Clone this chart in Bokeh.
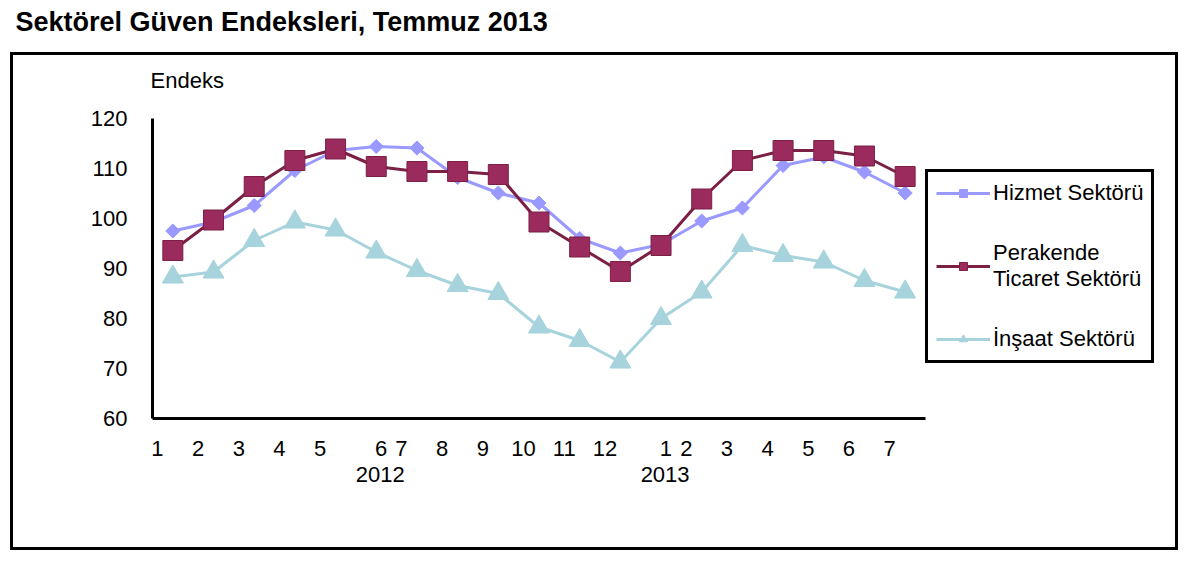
import math
from bokeh.plotting import figure
from bokeh.models import (Range1d, LinearAxis, FixedTicker, Legend, LegendItem,
                          ColumnDataSource, Title)
from bokeh.embed import file_html
from bokeh.resources import INLINE

# ---- data ----
months = [1, 2, 3, 4, 5, 6, 7, 8, 9, 10, 11, 12, 1, 2, 3, 4, 5, 6, 7]
years = ["2012", "2013"]
year_start = [5, 12]          # category under which the year is written
hizmet = [97.5, 99.3, 102.6, 109.6, 113.6, 114.4, 114.1, 108.2, 105.1, 103.1,
          96.0, 93.1, 94.8, 99.5, 102.1, 110.6, 112.3, 109.3, 105.1]
perakende = [93.6, 99.7, 106.4, 111.6, 113.9, 110.4, 109.4, 109.4, 108.8, 99.3,
             94.3, 89.4, 94.6, 103.9, 111.6, 113.6, 113.6, 112.5, 108.4]
insaat = [88.3, 89.3, 95.6, 99.3, 97.7, 93.3, 89.6, 86.6, 85.0, 78.3,
          75.6, 71.3, 80.0, 85.3, 94.6, 92.6, 91.3, 87.6, 85.3]
y_ticks = [60, 70, 80, 90, 100, 110, 120]
title_text = "Sektörel Güven Endeksleri, Temmuz 2013"
y_title = "Endeks"

idx = list(range(len(months)))
src = ColumnDataSource(dict(x=idx, h=hizmet, p=perakende, i=insaat))

FONT = "Liberation Sans"
N = len(months)
LEGEND_ROOM = 5.9   # extra x room (category units) that holds the legend

p = figure(width=1200, height=566, output_backend="svg", toolbar_location=None,
           x_range=Range1d(-0.5, N - 0.5 + LEGEND_ROOM), y_range=Range1d(60, 120),
           min_border_left=152, min_border_right=35, min_border_top=118,
           min_border_bottom=148, background_fill_color="white",
           border_fill_color=None, outline_line_color=None)
p.grid.visible = False

# chart-area frame drawn behind the (transparent) border area of the canvas
_bar = "linear-gradient(#000,#000)"
p.styles = {"background": (
    f"{_bar} 10px 52px / 1168px 3px no-repeat, "
    f"{_bar} 10px 547px / 1168px 3px no-repeat, "
    f"{_bar} 10px 52px / 3px 498px no-repeat, "
    f"{_bar} 1175px 52px / 3px 498px no-repeat, #ffffff")}

# main title (outer) and y-axis caption (inner, added later)
p.title.text = title_text
p.title.align = "left"
p.title.offset = -137
p.title.standoff = 8
p.title.text_font = FONT
p.title.text_font_size = "27px"
p.title.text_font_style = "bold"
p.title.text_color = "black"

p.add_layout(Title(text=y_title, align="left", offset=-2, standoff=51,
                   text_font=FONT, text_font_size="22px", text_font_style="normal",
                   text_color="black"), "above")

# ---- series ----
C_H = "#9999FF"
C_P_FILL = "#9B2B5C"
C_P_LINE = "#7B1F45"
C_I = "#A6D3DC"

li = p.line("x", "i", source=src, line_color=C_I, line_width=3)
si = p.scatter("x", "i", source=src, marker="triangle", size=21,
               fill_color=C_I, line_color=C_I)
lh = p.line("x", "h", source=src, line_color=C_H, line_width=3)
sh = p.scatter("x", "h", source=src, marker="square", size=10, angle=math.pi / 4,
               fill_color=C_H, line_color=C_H)
lp = p.line("x", "p", source=src, line_color=C_P_LINE, line_width=3)
sp = p.scatter("x", "p", source=src, marker="square", size=20,
               fill_color=C_P_FILL, line_color=C_P_LINE, line_width=1)

# ---- y axis ----
ya = p.yaxis[0]
ya.ticker = FixedTicker(ticks=y_ticks, minor_ticks=[])
ya.axis_line_color = "black"
ya.axis_line_width = 3
ya.major_tick_line_color = None
ya.minor_tick_line_color = None
ya.major_label_standoff = 19
ya.major_label_text_font = FONT
ya.major_label_text_font_size = "22px"
ya.major_label_text_color = "black"

# ---- x axis: months ----
tick_pos = [i - 0.38 + (0.5 if i in year_start else 0.0) for i in idx]
xa = p.xaxis[0]
xa.bounds = (-0.5, N - 0.5)
xa.ticker = FixedTicker(ticks=tick_pos, minor_ticks=[])
xa.major_label_overrides = {tp: str(m) for tp, m in zip(tick_pos, months)}
xa.major_label_text_align = "left"
xa.axis_line_color = "black"
xa.axis_line_width = 3
xa.major_tick_line_color = None
xa.minor_tick_line_color = None
xa.major_label_standoff = 16
xa.major_label_text_font = FONT
xa.major_label_text_font_size = "22px"
xa.major_label_text_color = "black"

# ---- x axis: years ----
year_pos = [s + 0.1 for s in year_start]
xa2 = LinearAxis(ticker=FixedTicker(ticks=year_pos, minor_ticks=[]),
                 major_label_overrides={tp: y for tp, y in zip(year_pos, years)},
                 axis_line_color=None, major_tick_line_color=None,
                 minor_tick_line_color=None, major_label_standoff=2,
                 major_label_text_font=FONT, major_label_text_font_size="22px",
                 major_label_text_color="black")
p.add_layout(xa2, "below")

# ---- legend ----
legend = Legend(items=[
    LegendItem(label="Hizmet Sektörü", renderers=[lh, sh]),
    LegendItem(label="Perakende\nTicaret Sektörü", renderers=[lp, sp]),
    LegendItem(label="İnşaat Sektörü", renderers=[li, si]),
], location=(773, 55))
legend.border_line_color = "black"
legend.border_line_alpha = 1
legend.border_line_width = 3
legend.background_fill_color = "white"
legend.background_fill_alpha = 1
legend.padding = 8
legend.spacing = 34
legend.glyph_width = 54
legend.glyph_height = 20
legend.label_standoff = 3
legend.label_text_font = FONT
legend.label_text_font_size = "22px"
legend.label_text_color = "black"
legend.margin = 0
p.add_layout(legend)

open("out.html", "w").write(file_html(p, INLINE))
